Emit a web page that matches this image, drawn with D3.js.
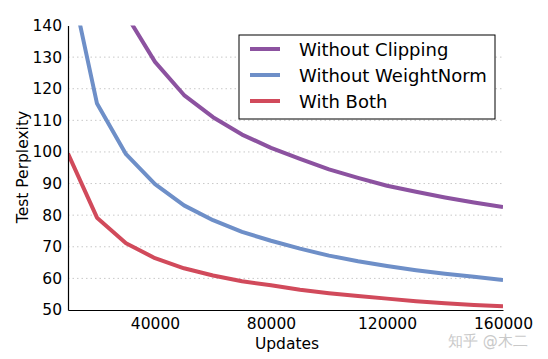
<!DOCTYPE html>
<html><head><meta charset="utf-8">
<script src="https://cdn.jsdelivr.net/npm/d3@7/dist/d3.min.js"></script>
<style>body{margin:0;background:#fff}svg{display:block}text{font-family:"DejaVu Sans",sans-serif}</style>
</head><body>
<script>
const updates = [10000,20000,30000,40000,50000,60000,70000,80000,90000,100000,110000,120000,130000,140000,150000,160000];
const withoutClipping = [210,170,143.5,128.5,118,111,105.5,101.3,97.8,94.5,91.8,89.3,87.4,85.6,84,82.6];
const withoutWeightNorm = [158,115.3,99.3,89.8,83.1,78.4,74.7,71.9,69.4,67.2,65.4,63.9,62.6,61.5,60.5,59.5];
const withBoth = [99.5,79.2,71.1,66.4,63.2,60.9,59.1,57.8,56.4,55.3,54.4,53.6,52.8,52.1,51.6,51.2];
const yTicks = [50,60,70,80,90,100,110,120,130,140];
const xTicks = [40000,80000,120000,160000];
const seriesNames = ["Without Clipping","Without WeightNorm","With Both"];
const colors = ["#8c52a0","#6e8fc8","#d14a5b"];

const W=548,H=359;
const svg=d3.select("body").append("svg").attr("width",W).attr("height",H);
const x=d3.scaleLinear().domain([10000,160000]).range([68,503]);
const y=d3.scaleLinear().domain([50,140]).range([310,25.5]);

svg.append("defs").append("clipPath").attr("id","clip").append("rect")
  .attr("x",68).attr("y",25.5).attr("width",435).attr("height",284.5);

// grid
svg.append("g").selectAll("line").data(yTicks.filter(d=>d>50&&d<140)).join("line")
  .attr("x1",68).attr("x2",503).attr("y1",d=>y(d)).attr("y2",d=>y(d))
  .attr("stroke","#c8c8c8").attr("stroke-width",1).attr("stroke-dasharray","1.5,3");

const series=[withoutClipping,withoutWeightNorm,withBoth];
const line=d3.line().x((d,i)=>x(updates[i])).y(d=>y(d));
svg.append("g").attr("clip-path","url(#clip)").selectAll("path").data(series).join("path")
  .attr("d",line).attr("fill","none").attr("stroke",(d,i)=>colors[i]).attr("stroke-width",4)
  .attr("stroke-linejoin","round");

// axes
const ya=d3.axisLeft(y).tickValues(yTicks).tickSize(0).tickPadding(6).tickFormat(d3.format("d"));
const gy=svg.append("g").attr("transform","translate(68,0)").call(ya);
gy.select(".domain").attr("stroke","#000").attr("stroke-width",1.2);
gy.selectAll("text").attr("font-size",15.5).attr("fill","#000").attr("font-family","DejaVu Sans");
const xa=d3.axisBottom(x).tickValues(xTicks).tickSize(0).tickPadding(8).tickFormat(d3.format("d"));
const gx=svg.append("g").attr("transform","translate(0,310)").call(xa);
gx.select(".domain").attr("stroke","#000").attr("stroke-width",1.2);
gx.selectAll("text").attr("font-size",15.5).attr("fill","#000").attr("font-family","DejaVu Sans");

svg.append("text").attr("x",287).attr("y",349).attr("text-anchor","middle").attr("font-size",15.5).text("Updates");
svg.append("text").attr("transform","translate(28,167) rotate(-90)").attr("text-anchor","middle").attr("font-size",15.5).text("Test Perplexity");

// legend
const lg=svg.append("g");
lg.append("rect").attr("x",239).attr("y",35).attr("width",256).attr("height",84).attr("fill","#fff").attr("stroke","#000").attr("stroke-width",1);
seriesNames.forEach((n,i)=>{
  const yy=49+i*26;
  lg.append("line").attr("x1",250).attr("x2",280).attr("y1",yy).attr("y2",yy).attr("stroke",colors[i]).attr("stroke-width",4);
  lg.append("text").attr("x",299).attr("y",yy+6.5).attr("font-size",18).text(n);
});

svg.append("text").attr("x",448).attr("y",346).attr("font-size",15).attr("fill","#c9c9c9")
  .attr("font-family","Noto Sans CJK SC").text("知乎 @木二");
</script>
</body></html>
